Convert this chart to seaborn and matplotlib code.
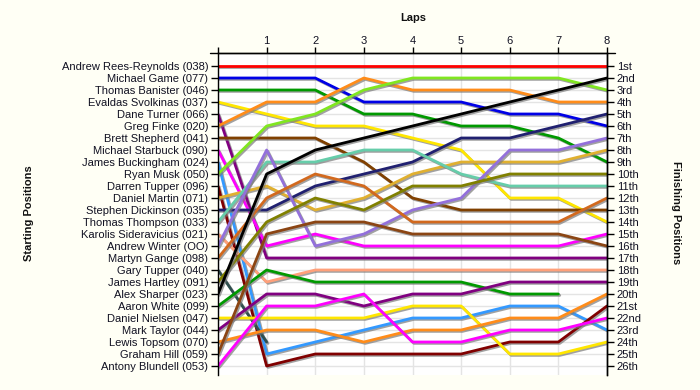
import pandas as pd
import seaborn as sns
import matplotlib
matplotlib.use("Agg")
import matplotlib.pyplot as plt
import matplotlib.patheffects as pe
from matplotlib.lines import Line2D

laps = [0, 1, 2, 3, 4, 5, 6, 7, 8]

drivers = [
    "Andrew Rees-Reynolds (038)", "Michael Game (077)", "Thomas Banister (046)",
    "Evaldas Svolkinas (037)", "Dane Turner (066)", "Greg Finke (020)",
    "Brett Shepherd (041)", "Michael Starbuck (090)", "James Buckingham (024)",
    "Ryan Musk (050)", "Darren Tupper (096)", "Daniel Martin (071)",
    "Stephen Dickinson (035)", "Thomas Thompson (033)", "Karolis Sideravicius (021)",
    "Andrew Winter (OO)", "Martyn Gange (098)", "Gary Tupper (040)",
    "James Hartley (091)", "Alex Sharper (023)", "Aaron White (099)",
    "Daniel Nielsen (047)", "Mark Taylor (044)", "Lewis Topsom (070)",
    "Graham Hill (059)", "Antony Blundell (053)",
]

colors = [
    "#FF0000", "#0000E6", "#009900", "#FFE600", "#800080", "#FF8C1A",
    "#804000", "#FF00FF", "#3399FF", "#80E620", "#800000", "#E0B030",
    "#202070", "#66CDAA", "#FFA07A", "#9370DB", "#D2691E", "#2F4F4F",
    "#808000", "#000000", "#009900", "#FFE600", "#800080", "#FF8C1A",
    "#8B4513", "#FF00FF",
]

# position after each lap (lap 0 = grid)
p01 = [1, 1, 1, 1, 1, 1, 1, 1, 1]
p02 = [2, 2, 2, 4, 4, 4, 5, 5, 6]
p03 = [3, 3, 3, 5, 5, 6, 6, 7, 9]
p04 = [4, 5, 6, 6, 7, 8, 12, 12, 14]
p05 = [5, 17, 17, 17, 17, 17, 17, 17, 17]
p06 = [6, 4, 4, 2, 3, 3, 3, 4, 4]
p07 = [7, 7, 7, 9, 12, 13, 13, 13, 13]
p08 = [8, 16, 15, 16, 16, 16, 16, 16, 15]
p09 = [9, 25, 24, 23, 22, 22, 21, 21, 23]
p10 = [10, 6, 5, 3, 2, 2, 2, 2, 3]
p11 = [11, 26, 25, 25, 25, 25, 24, 24, 21]
p12 = [12, 11, 13, 12, 10, 9, 9, 9, 8]
p13 = [13, 13, 11, 10, 9, 7, 7, 6, 5]
p14 = [14, 9, 9, 8, 8, 10, 11, 11, 11]
p15 = [15, 19, 18, 18, 18, 18, 18, 18, 18]
p16 = [16, 8, 16, 15, 13, 12, 8, 8, 7]
p17 = [17, 12, 10, 11, 14, 14, 14, 14, 12]
p18 = [18, 24]
p19 = [19, 14, 12, 13, 11, 11, 10, 10, 10]
p20 = [20, 10, 8, 7, 6, 5, 4, 3, 2]
p21 = [21, 18, 19, 19, 19, 19, 20, 20]
p22 = [22, 22, 22, 22, 21, 21, 25, 25, 24]
p23 = [23, 20, 20, 21, 20, 20, 19, 19, 19]
p24 = [24, 23, 23, 24, 23, 23, 22, 22, 20]
p25 = [25, 15, 14, 14, 15, 15, 15, 15, 16]
p26 = [26, 21, 21, 20, 24, 24, 23, 23, 22]

finish_labels = [
    "1st", "2nd", "3rd", "4th", "5th", "6th", "7th", "8th", "9th", "10th",
    "11th", "12th", "13th", "14th", "15th", "16th", "17th", "18th", "19th",
    "20th", "21st", "22nd", "23rd", "24th", "25th", "26th",
]

all_pos = [p01, p02, p03, p04, p05, p06, p07, p08, p09, p10, p11, p12, p13,
           p14, p15, p16, p17, p18, p19, p20, p21, p22, p23, p24, p25, p26]

rows = []
for d, ps in zip(drivers, all_pos):
    for lap, p in zip(laps, ps):
        rows.append({"driver": d, "lap": lap, "pos": p})
df = pd.DataFrame(rows)

sns.set_theme(style="white")
plt.rcParams["font.family"] = ["Liberation Sans", "DejaVu Sans"]

bg = "#FFFFF5"
top_px, bot_px = 53, 375
fig = plt.figure(figsize=(7.0, 3.9), dpi=100, facecolor=bg)
ax = fig.add_axes([218 / 700, 1 - bot_px / 390, (607 - 218) / 700, (bot_px - top_px) / 390])
ax.set_facecolor("white")

sns.lineplot(data=df, x="lap", y="pos", hue="driver", hue_order=drivers,
             palette=dict(zip(drivers, colors)), legend=False, linewidth=2.0,
             estimator=None, sort=False, ax=ax)

for ln in ax.lines:
    ln.set_path_effects([pe.SimpleLineShadow(offset=(1.0, -1.0), shadow_color="#7a7a7a", alpha=0.7),
                         pe.Normal()])

ax.set_xlim(0, 8)
y_top = 1 - (66 - top_px) / 12
y_bot = 26 + (bot_px - 366) / 12
ax.set_ylim(y_bot, y_top)

ax.xaxis.tick_top()
ax.set_xticks(laps)
ax.set_xticklabels([""] + [str(l) for l in laps[1:]])
ax.set_yticks(list(range(1, 27)))
ax.set_yticklabels(drivers)
ax.set_xlabel("")
ax.set_ylabel("")

ax.grid(True, color="#E4E4E4", linewidth=1.0)
ax.set_axisbelow(True)

for s in ["left", "right", "top"]:
    ax.spines[s].set_visible(True)
    ax.spines[s].set_color("#000000")
    ax.spines[s].set_linewidth(1.0)
ax.spines["bottom"].set_visible(False)

ax.tick_params(axis="y", which="both", direction="out", length=5, width=1,
               color="black", labelsize=8, labelcolor="#111122", pad=2, left=True)
ax.tick_params(axis="x", which="both", direction="out", length=4, width=1,
               color="black", labelsize=8, labelcolor="#111122", pad=1,
               top=True, bottom=False, labeltop=True, labelbottom=False)

ax2 = ax.twinx()
ax2.set_ylim(y_bot, y_top)
ax2.set_yticks(list(range(1, 27)))
ax2.set_yticklabels(finish_labels)
ax2.tick_params(axis="y", direction="out", length=5, width=1, color="black",
                labelsize=8, labelcolor="#111122", pad=2, right=True)
ax2.grid(False)
for s in ["left", "top", "bottom"]:
    ax2.spines[s].set_visible(False)
ax2.spines["right"].set_color("#000000")
ax2.spines["right"].set_linewidth(1.0)

# top axis line extends slightly beyond the plot
yl = 1 - top_px / 390
fig.add_artist(Line2D([210 / 700, 615 / 700], [yl, yl], color="black", linewidth=1.0))

fig.text(413 / 700, 1 - 18 / 390, "Laps", ha="center", va="center",
         fontsize=8, fontweight="bold", color="#111111")
fig.text(29 / 700, 1 - 213 / 390, "Starting Positions", ha="center", va="center",
         rotation=90, fontsize=8, fontweight="bold", color="#111111")
fig.text(676 / 700, 1 - 213 / 390, "Finishing Positions", ha="center", va="center",
         rotation=270, fontsize=8, fontweight="bold", color="#111111")

fig.savefig("out.png", dpi=100, facecolor=bg)
